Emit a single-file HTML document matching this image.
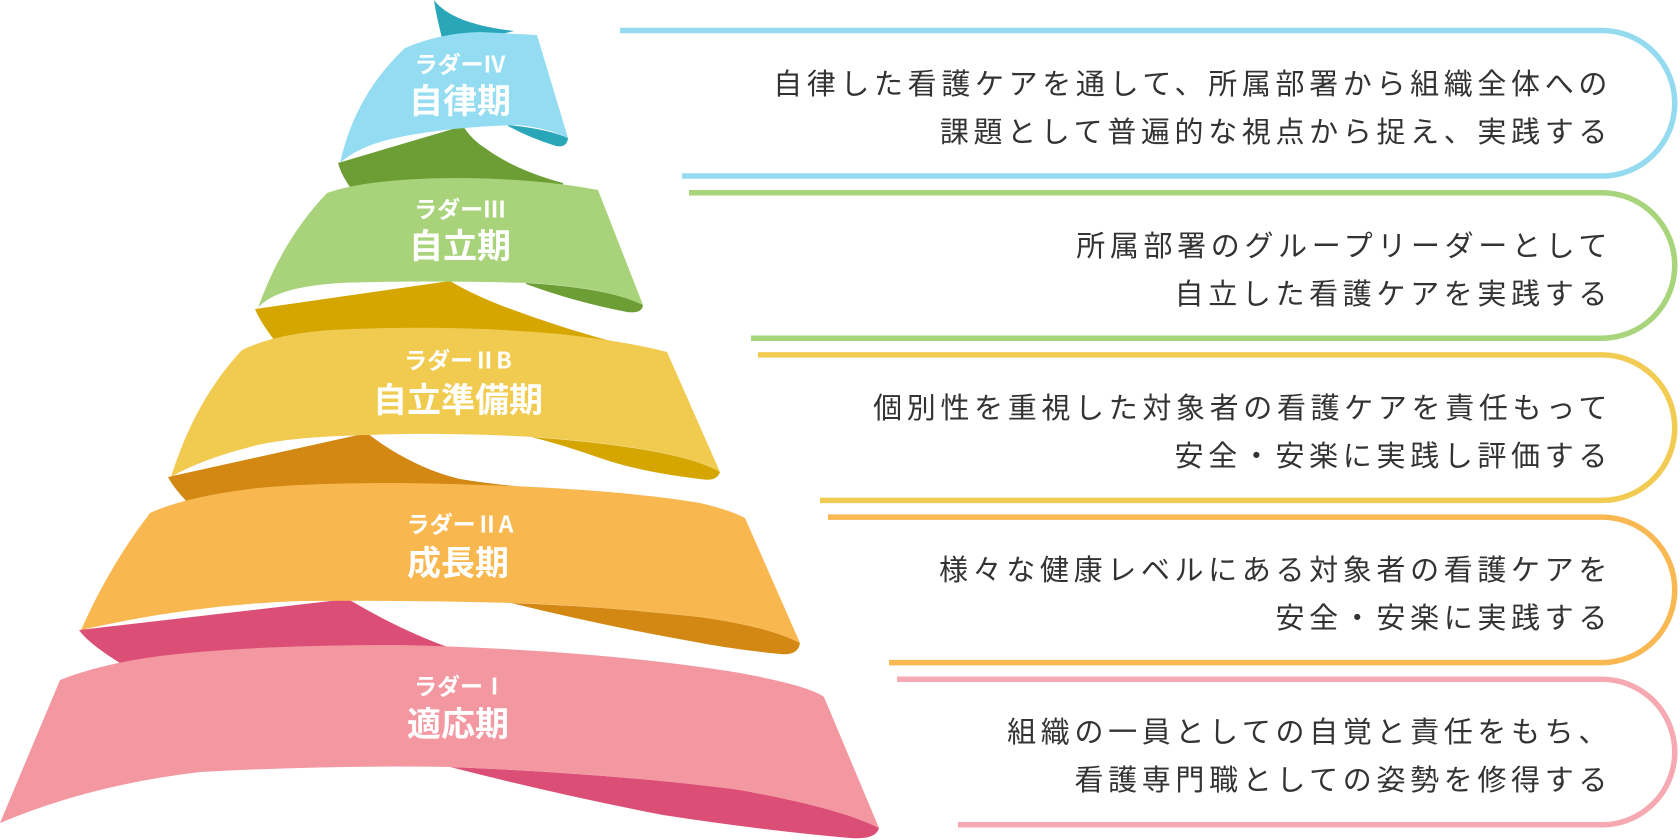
<!DOCTYPE html>
<html lang="ja">
<head>
<meta charset="utf-8">
<style>
  html, body { margin:0; padding:0; background:#ffffff; }
  body { width:1680px; height:840px; overflow:hidden; position:relative; }
  svg { position:absolute; left:0; top:0; }
  .lbl { font-family:"Noto Sans CJK JP","Liberation Sans",sans-serif; font-weight:bold; fill:#ffffff; }
  .desc { font-family:"Liberation Sans","Noto Sans CJK JP",sans-serif; font-size:29px; fill:#333333; letter-spacing:4.65px; }
</style>
</head>
<body>
<svg width="1680" height="840" viewBox="0 0 1680 840" xmlns="http://www.w3.org/2000/svg">
  <!-- ===== Brackets ===== -->
  <g fill="none" stroke-width="5.5" stroke-linecap="butt">
    <path d="M620,30.5 H1602 A72.75,72.75 0 0 1 1602,176 H682" stroke="#94dbf0"/>
    <path d="M689,192.7 H1602 A72.75,72.75 0 0 1 1602,338.2 H751" stroke="#a8d47b"/>
    <path d="M758,354.9 H1602 A72.75,72.75 0 0 1 1602,500.4 H820" stroke="#f1cb52"/>
    <path d="M828,517.1 H1602 A72.75,72.75 0 0 1 1602,662.6 H889" stroke="#f9b852"/>
    <path d="M897,679.3 H1602 A72.75,72.75 0 0 1 1602,824.8 H958" stroke="#f6a9b2"/>
  </g>

  <!-- ===== Ribbon dark (back) parts ===== -->
  <!-- teal top curl -->
  <path d="M434,0 C446,16 472,26 514,31 L470,42 L443,42 Q436,15 434,0 Z" fill="#2aa6b9"/>
  <!-- teal sliver -->
  <path d="M508,125 Q548,129 568,138 Q567,148 556,146 Q530,138 508,126 Z" fill="#2aa6b9"/>
  <!-- dark green back -->
  <path d="M338,163 L463,126 Q472,140 485,148 Q515,170 563,183 L563,205 L365,205 Q343,182 338,163 Z" fill="#6d9e36"/>
  <!-- dark green sliver -->
  <path d="M526,283 Q610,288 643,305 Q642,314 627,312 Q575,302 526,284 Z" fill="#6d9e36"/>
  <!-- dark yellow back -->
  <path d="M255,309 L450,281 Q470,293 500,305 Q560,328 625,345 L620,362 L292,362 Q262,327 255,309 Z" fill="#d5a600"/>
  <!-- dark yellow sliver -->
  <path d="M531,437 Q680,448 720,472 Q717,482 700,479 Q640,472 600,458 Q560,444 531,437 Z" fill="#d5a600"/>
  <!-- dark orange back -->
  <path d="M168,477 L367,433 Q385,447 400,455 Q430,472 460,479 Q490,484 525,487 L525,515 L200,515 Q175,491 168,477 Z" fill="#d38813"/>
  <!-- dark orange sliver -->
  <path d="M511,603 Q600,606 700,617 Q770,627 800,643 Q798,656 780,654 Q730,649 690,641 Q600,625 511,603 Z" fill="#d38813"/>
  <!-- dark pink back -->
  <path d="M79,630 L348,599 Q375,615 400,627 Q425,639 450,648 L450,672 L135,672 Q90,646 79,630 Z" fill="#db4e75"/>
  <!-- dark pink sliver -->
  <path d="M450,767 Q620,774 740,790 Q840,808 879,828 Q876,840 850,838 Q760,830 663,815 Q560,795 450,767 Z" fill="#db4e75"/>

  <!-- ===== Ribbon front bands ===== -->
  <!-- blue -->
  <path d="M405,48 Q440,33 480,32 L537,35 L568,138 Q548,128 517,125 Q450,127 400,137 Q360,145 340,163 Q355,95 405,48 Z" fill="#93dcf1"/>
  <!-- green -->
  <path d="M327,193 Q370,178 463,178 Q540,179 598,190 L643,305 Q610,288 530,283 Q420,280 340,283 Q275,287 258,308 Q282,240 327,193 Z" fill="#a9d37b"/>
  <!-- yellow -->
  <path d="M242,350 Q275,334 330,330 Q450,324 560,334 Q630,342 667,352 L720,472 Q680,448 535,437 Q440,432 367,435 Q285,437 250,447 Q200,460 171,477 Q195,400 242,350 Z" fill="#f0cb50"/>
  <!-- orange -->
  <path d="M150,513 Q185,497 250,489 Q300,483 400,483 Q600,486 700,503 Q730,510 745,518 L800,643 Q770,627 700,617 Q600,606 515,603 Q400,600 300,601 Q190,605 81,630 Q110,565 150,513 Z" fill="#f9b74f"/>
  <!-- pink -->
  <path d="M60,680 Q100,664 160,656 Q250,645 400,645 Q600,650 740,673 Q810,686 824,697 L879,828 Q840,808 740,790 Q620,774 452,767 Q330,765 200,772 Q90,785 0,823 L60,680 Z" fill="#f397a1"/>

  <!-- ===== Ribbon labels ===== -->
  <g text-anchor="middle">
    <text class="lbl" x="460" y="72.7" font-size="23">ラダーIV</text>
    <text class="lbl" x="460" y="113" font-size="34">自律期</text>

    <text class="lbl" x="460" y="217.7" font-size="23">ラダーIII</text>
    <text class="lbl" x="460" y="258" font-size="34">自立期</text>

    <text class="lbl" x="458" y="368.7" font-size="23">ラダーⅡB</text>
    <text class="lbl" x="458" y="412" font-size="34">自立準備期</text>

    <text class="lbl" x="460" y="532.7" font-size="23">ラダーⅡA</text>
    <text class="lbl" x="458" y="575" font-size="34">成長期</text>

    <text class="lbl" x="460" y="694.7" font-size="23">ラダーⅠ</text>
    <text class="lbl" x="458" y="736" font-size="34">適応期</text>
  </g>

  <!-- ===== Descriptions ===== -->
  <g text-anchor="end">
    <text class="desc" x="1612" y="94">自律した看護ケアを通して、所属部署から組織全体への</text>
    <text class="desc" x="1612" y="142">課題として普遍的な視点から捉え、実践する</text>

    <text class="desc" x="1612" y="256">所属部署のグループリーダーとして</text>
    <text class="desc" x="1612" y="304">自立した看護ケアを実践する</text>

    <text class="desc" x="1612" y="418">個別性を重視した対象者の看護ケアを責任もって</text>
    <text class="desc" x="1612" y="466">安全・安楽に実践し評価する</text>

    <text class="desc" x="1612" y="580">様々な健康レベルにある対象者の看護ケアを</text>
    <text class="desc" x="1612" y="628">安全・安楽に実践する</text>

    <text class="desc" x="1612" y="742">組織の一員としての自覚と責任をもち、</text>
    <text class="desc" x="1612" y="790">看護専門職としての姿勢を修得する</text>
  </g>
</svg>
</body>
</html>
